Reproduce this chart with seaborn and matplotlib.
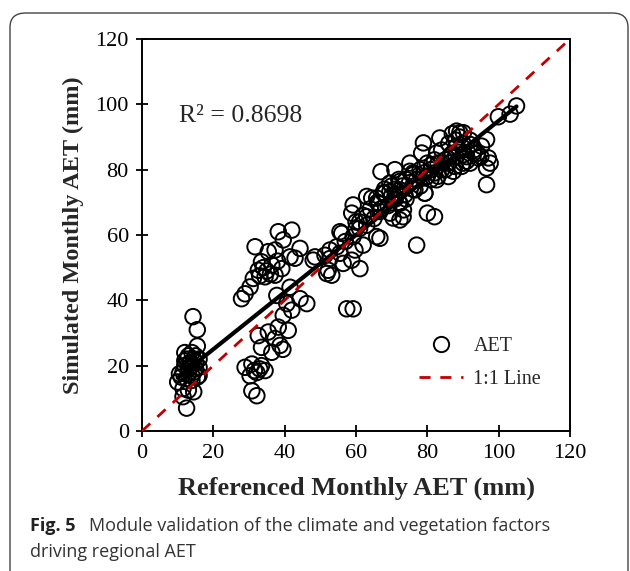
import numpy as np
import matplotlib
matplotlib.use("Agg")
import matplotlib.pyplot as plt
from matplotlib.patches import FancyBboxPatch
from matplotlib.lines import Line2D
import seaborn as sns

# referenced (x) vs simulated (y) monthly AET
aet_ref = [
    # low cluster
    14.3, 15.5, 15.5, 12, 13, 14, 15, 12.5, 13.5, 14.5, 16, 12, 13, 14, 15, 16, 11.5, 13, 14.5, 16,
    11, 12.5, 14, 10, 11.5, 13, 14.5, 11.5, 12.5, 13, 12, 15, 14, 10.5, 15.5,
    # upper cluster around 30-45
    42, 38.2, 44.3, 41.5, 39.6, 31.7, 35.4, 37.3, 33.5, 36.4, 39.2, 32.6, 34.5, 37.3, 31.2, 30.3,
    28.9, 27.9, 42.9, 35, 36, 34, 38, 33, 37.8, 40.6, 42, 46.2, 44.3, 41.5,
    # lower cluster around 30-40
    38.2, 35.4, 32.6, 38.7, 33.5, 36.4, 30.8, 33.5, 28.9, 32.2, 34.5, 30.3, 30.8, 32.2, 39.6, 37.3,
    39.5, 41, 31.5, 33,
    # middle
    48, 48.5, 51.8, 52.7, 54.6, 52.2, 53.2, 52.7, 55.5, 56.4, 58.8, 61.1, 59.7, 56, 59.2, 62, 65.8,
    66.7, 59.2, 58.8, 63, 66.3, 69.5, 63, 67.6, 70.9, 51.3, 57.4, 59.2, 77, 80, 82, 67, 69.5, 72.3,
    73.2, 75.1, 79.3, 72.3, 68.1, 64.4, 70.4, 55.5, 57, 60, 61,
    # upper right
    72.3, 73.3, 66.7, 65.8, 70.9, 72.3, 76.1, 79.8, 82.6, 85.9, 87.7, 86.3, 82.6, 78.9, 78.4, 83.5,
    89.1, 90, 91, 76.5, 79.3, 73.7, 69.5, 75.1, 81.2, 105, 103.2, 99.9, 96.6, 95.2, 97.1, 97.6, 96.6,
    96.6, 88.2, 90.1, 92, 92.9, 94.3, 92, 90.1, 88.2, 89.6, 87.3,
    # dense band
    70, 71, 72, 73, 74, 75, 76, 77, 78, 79, 80, 81, 82, 83, 84, 85, 86, 87, 88, 89, 90, 86, 84, 82,
    80, 78, 76, 74, 72, 70, 68, 66, 64, 62, 60, 61, 63, 65, 67, 69, 71, 88, 89, 87, 92, 93, 94, 95,
    91, 90, 85, 83, 81,
]
aet_sim = [
    35, 31, 26, 24, 23, 24, 23, 22, 21, 22, 22, 20, 19, 20, 19, 19.5, 18, 17.5, 18, 17,
    16.5, 16, 15.5, 15, 13, 12.5, 12, 10.5, 7, 20.5, 21.5, 21, 17, 17.5, 16.5,
    61.5, 61, 55.9, 53.3, 58.5, 56.4, 54.9, 55.4, 51.8, 50.8, 49.7, 49.2, 47.2, 47.7, 46.7, 44.1,
    42, 40.5, 52.9, 49, 48, 50, 52, 47.5, 41.5, 39, 37, 39, 40.5, 44,
    31.8, 30.3, 29.2, 26.2, 25.6, 24.1, 20.5, 20, 19.5, 17.9, 18.5, 16.9, 12.3, 10.8, 35.4, 28.3,
    25, 30.8, 18.5, 19,
    52.3, 53.3, 48.2, 55.4, 56.4, 49.2, 47.7, 52.8, 54.4, 51.3, 52.3, 49.7, 55.4, 60.5, 59.5, 56.9, 59.5,
    59, 69.2, 66.7, 65.6, 69.7, 66.7, 71.8, 72.9, 71.8, 53.8, 37.4, 37.4, 56.9, 66.7, 65.6, 79.4, 75.9, 73.8,
    65.6, 79.5, 72.8, 69.7, 72.8, 71.3, 65.2, 61, 58, 62, 64,
    64.6, 67.7, 67.2, 71.3, 80, 76.4, 78.5, 77.9, 76.9, 77.9, 81, 84.1, 85.1, 88.2, 85.1, 89.7,
    91.3, 86.7, 82.6, 73.8, 72.8, 72.3, 73.3, 82, 81.5, 99.5, 97, 96.2, 89.2, 87.2, 83.6, 82, 80.5,
    75.4, 91.8, 91.3, 87.7, 85.1, 83.6, 82, 84.6, 87.2, 81, 79.5,
    72, 74, 70, 75, 71, 76, 74, 77, 75, 79, 78, 80, 79, 82, 80, 83, 82, 85, 84, 86, 88, 88, 86, 83,
    82, 80, 79, 77, 77, 75, 74, 70, 68, 66, 64, 62, 63, 65, 68, 69, 71, 89, 90, 91, 89, 86, 85, 84,
    84, 82, 80, 78, 77,
]
one_to_one = [0, 120]
r2_label = "R\u00b2 = 0.8698"
ticks = [0, 20, 40, 60, 80, 100, 120]

sns.set_style("ticks")
plt.rcParams['font.family'] = ['Liberation Serif', 'DejaVu Serif']

fig = plt.figure(figsize=(6.3, 5.71), dpi=100)
ax = fig.add_axes([0.2254, 0.2452, 0.6794, 0.6865])

sns.scatterplot(x=aet_ref, y=aet_sim, ax=ax, marker='o', s=125, fc='none', ec='black',
                linewidth=1.4, zorder=3)
sns.regplot(x=np.array(aet_ref), y=np.array(aet_sim), ax=ax, scatter=False, ci=None,
            truncate=True, color='black', line_kws={'lw': 3, 'zorder': 4})
ax.plot(one_to_one, one_to_one, color='#C00000', lw=2, dashes=(4, 3.5), zorder=5)

ax.set_xlim(0, 120)
ax.set_ylim(0, 120)
ax.set_xticks(ticks)
ax.set_yticks(ticks)
ax.tick_params(direction='inout', length=9, width=1.3, labelsize=16, pad=5, colors='black')
for sp in ax.spines.values():
    sp.set_visible(True)
    sp.set_linewidth(1.4)
    sp.set_color('black')

ax.set_xlabel("Referenced Monthly AET (mm)", fontsize=19, fontweight='bold', labelpad=10)
ax.set_ylabel("Simulated Monthly AET (mm)", fontsize=17.5, fontweight='bold', labelpad=8)
ax.text(10.5, 96.5, r2_label, fontsize=18.5, va='center', ha='left')

handles = [
    Line2D([], [], marker='o', ls='none', mfc='none', mec='black', ms=11, mew=1.4, label='AET'),
    Line2D([], [], color='#C00000', lw=2, dashes=(4, 3.5), label='1:1 Line'),
]
ax.legend(handles=handles, loc='lower left', bbox_to_anchor=(0.605, 0.06), frameon=False,
          fontsize=14.5, handlelength=2.2, labelspacing=0.7, handletextpad=0.5)

# caption
cap_font = ['Open Sans', 'DejaVu Sans']
fig.text(30 / 630, 1 - 526 / 571, "Fig. 5", fontsize=13, fontweight='bold', family=cap_font,
         va='center', ha='left', color='#222222')
fig.text(89 / 630, 1 - 526 / 571, "Module validation of the climate and vegetation factors",
         fontsize=13, family=cap_font, va='center', ha='left', color='#333333')
fig.text(30 / 630, 1 - 552 / 571, "driving regional AET", fontsize=13, family=cap_font,
         va='center', ha='left', color='#333333')

# rounded outer frame
frame = FancyBboxPatch((10 / 630, -0.1), 618 / 630, 1.1 - 13 / 571,
                       boxstyle="round,pad=0,rounding_size=0.025", transform=fig.transFigure,
                       fill=False, ec='#444444', lw=1.0)
fig.patches.append(frame)

fig.savefig("out.png", dpi=100)
